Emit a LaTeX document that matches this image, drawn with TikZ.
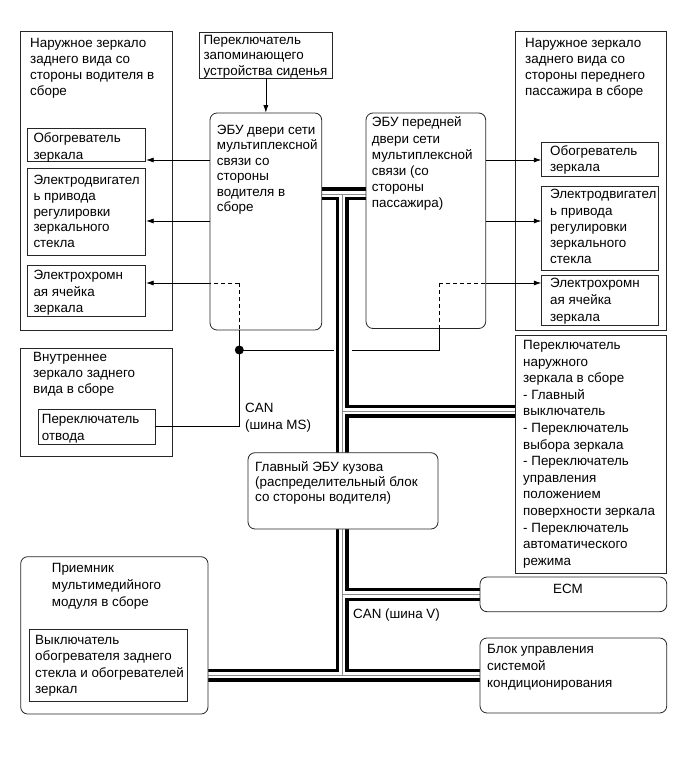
\documentclass[tikz,border=0pt]{standalone}
\usepackage{fontspec}
\setmainfont{Liberation Sans}
\usetikzlibrary{fit,arrows.meta,backgrounds}
\newcommand\dfont{\fontsize{13.4pt}{16pt}\selectfont}
\begin{document}
\begin{tikzpicture}[x=1pt,y=-1pt,
  box/.style={draw=black!85, line width=0.8pt, fill=white, inner sep=0pt},
  rbox/.style={box, rounded corners=7pt},
  txt/.style={inner sep=0pt, anchor=north west, align=left, font=\dfont},
  arr/.style={line width=0.7pt, -{Latex[length=7.5pt,width=5pt]}},
  ln/.style={line width=0.7pt},
  dsh/.style={line width=0.7pt, dash pattern=on 4pt off 3pt},
]
\useasboundingbox (0,0) rectangle (686,759);

% outer boxes
\node[box, fit={(20.7,31.7) (172,330)}] (dmir) {};
\node[box, fit={(515,31.7) (666,330)}] (pmir) {};
\node[box, fit={(199,32.7) (332.7,78)}] (seatsw) {};
\node[rbox, fit={(210,113) (321.7,330)}] (decu) {};
\node[rbox, fit={(366,113) (485.7,328.5)}] (pecu) {};
\node[box, fit={(27.7,128) (145.7,161.7)}] (dheat) {};
\node[box, fit={(27.7,168) (145.7,255)}] (dmot) {};
\node[box, fit={(27.7,265) (145.7,316.7)}] (dec) {};
\node[box, fit={(541.7,142.7) (658,176.7)}] (pheat) {};
\node[box, fit={(541.7,186.7) (658,270)}] (pmot) {};
\node[box, fit={(541.7,275) (658,325)}] (pec) {};
\node[box, fit={(20.7,348) (172,456.7)}] (imir) {};
\node[box, fit={(38,409) (155,444)}] (swret) {};
\node[box, fit={(515,335) (666,573.3)}] (msw) {};
\node[rbox, fit={(248,452.7) (438,529)}] (bcm) {};
\node[rbox, fit={(20.7,556.7) (208,714)}] (mm) {};
\node[box, fit={(29.3,629) (187,701.7)}] (rws) {};
\node[rbox, fit={(480,577) (666.7,611.7)}] (ecm) {};
\node[rbox, fit={(480,638) (666.7,713)}] (clim) {};

% texts
\node[txt] (dmirT) at (30,38.1) {Наружное зеркало\\заднего вида со\\стороны водителя в\\сборе};
\node[txt] (pmirT) at (525,38.4) {Наружное зеркало\\заднего вида со\\стороны переднего\\пассажира в сборе};
\node[txt, font={\fontsize{13.4pt}{15.5pt}\selectfont}] (seatswT) at (203.3,35) {Переключатель\\запоминающего\\устройства сиденья};
\node[txt, font={\fontsize{13.4pt}{15.4pt}\selectfont}] (decuT) at (216.7,125) {ЭБУ двери сети\\мультиплексной\\связи со\\стороны\\водителя в\\сборе};
\node[txt, font={\fontsize{13.4pt}{16.2pt}\selectfont}] (pecuT) at (371.7,116.8) {ЭБУ передней\\двери сети\\мультиплексной\\связи (со\\стороны\\пассажира)};
\node[txt, font={\fontsize{13.4pt}{17.5pt}\selectfont}] (dheatT) at (33.3,132.2) {Обогреватель\\зеркала};
\node[txt, font={\fontsize{13.4pt}{15.7pt}\selectfont}] (dmotT) at (33.3,175.1) {Электродвигател\\ь привода\\регулировки\\зеркального\\стекла};
\node[txt, font={\fontsize{13.4pt}{16.6pt}\selectfont}] (decT) at (33.3,270.1) {Электрохромн\\ая ячейка\\зеркала};
\node[txt] (pheatT) at (550,145.8) {Обогреватель\\зеркала};
\node[txt, font={\fontsize{13.4pt}{16.2pt}\selectfont}] (pmotT) at (550,189.4) {Электродвигател\\ь привода\\регулировки\\зеркального\\стекла};
\node[txt, font={\fontsize{13.4pt}{16.6pt}\selectfont}] (pecT) at (550,278.4) {Электрохромн\\ая ячейка\\зеркала};
\node[txt] (imirT) at (33,352) {Внутреннее\\зеркало заднего\\вида в сборе};
\node[txt, font={\fontsize{13.4pt}{17pt}\selectfont}] (swretT) at (41.7,414.1) {Переключатель\\отвода};
\node[txt, font={\fontsize{13.4pt}{16.6pt}\selectfont}] (mswT) at (523,340.1) {Переключатель\\наружного\\зеркала в сборе\\- Главный\\выключатель\\- Переключатель\\выбора зеркала\\- Переключатель\\управления\\положением\\поверхности зеркала\\- Переключатель\\автоматического\\режима};
\node[txt, font={\fontsize{13.4pt}{14.6pt}\selectfont}] (bcmT) at (255,461.8) {Главный ЭБУ кузова\\(распределительный блок\\со стороны водителя)};
\node[txt, font={\fontsize{13.4pt}{16.8pt}\selectfont}] (mmT) at (51.7,563.1) {Приемник\\мультимедийного\\модуля в сборе};
\node[txt, font={\fontsize{13.4pt}{16.3pt}\selectfont}] (rwsT) at (35,635.1) {Выключатель\\обогревателя заднего\\стекла и обогревателей\\зеркал};
\node[inner sep=0pt, font=\dfont] (ecmT) at (568,589) {ECM};
\node[txt, font={\fontsize{13.4pt}{16.8pt}\selectfont}] (climT) at (487,644.1) {Блок управления\\системой\\кондиционирования};
\node[txt, font={\fontsize{13.4pt}{17pt}\selectfont}] (can1T) at (245,403.1) {CAN\\(шина MS)};
\node[txt] (can2T) at (353,608.1) {CAN (шина V)};

% coordinates
\coordinate (jt) at (342,194);
\coordinate (jA) at (342,411);
\coordinate (jB) at (342,594.5);
\coordinate (jb) at (342,675);
\coordinate (yA) at (0,160);
\coordinate (yB) at (0,221);
\coordinate (yC) at (0,283);
\coordinate (dL) at (239.3,283);
\coordinate (pR) at (439,283);
\coordinate (dot) at (239.3,350);
\coordinate (msL) at (334,350);
\coordinate (msR) at (352,350);

% bus pipes
\begin{scope}[on background layer]
\foreach \w/\c in {13pt/black, 6.5pt/white, 0.8pt/black!45} {
  \draw[line width=\w, draw=\c]
    (decu.east |- jt) -- (pecu.west |- jt)
    (jt) -- (jb)
    (jA) -- (msw.west |- jA)
    (jB) -- (ecm.west |- jB)
    (mm.east |- jb) -- (clim.west |- jb);
}
\end{scope}

% arrows
\draw[arr] (seatsw.south) -- (decu.north);
\draw[arr] (decu.west |- yA) -- (dheat.east |- yA);
\draw[arr] (decu.west |- yB) -- (dmot.east |- yB);
\draw[arr] (decu.west |- yC) -- (dec.east |- yC);
\draw[arr] (pecu.east |- yA) -- (pheat.west |- yA);
\draw[arr] (pecu.east |- yB) -- (pmot.west |- yB);
\draw[arr] (pecu.east |- yC) -- (pec.west |- yC);

% MS bus
\draw[dsh] (dL) -- (decu.west |- yC);
\draw[dsh] (dL) -- (dL |- decu.south);
\draw[ln] (dL |- decu.south) -- (dot);
\draw[ln] (dot) -- (msL);
\draw[ln] (swret.east) -| (dot);
\fill (dot) circle (4.5pt);
\draw[dsh] (pR) -- (pecu.east |- yC);
\draw[dsh] (pR) -- (pR |- pecu.south);
\draw[ln] (pR |- pecu.south) |- (msR);
\end{tikzpicture}
\end{document}
